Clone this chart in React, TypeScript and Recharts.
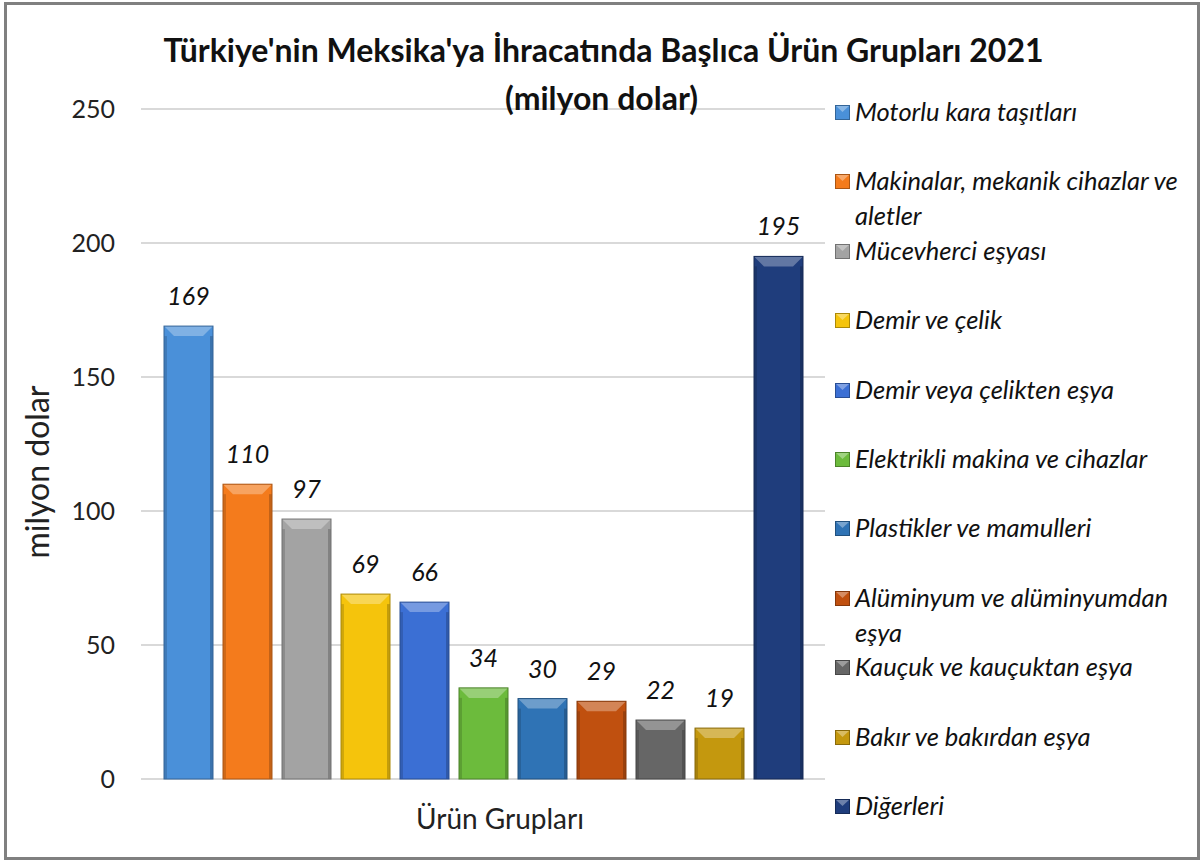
import React from 'react';
import {
  BarChart,
  Bar,
  XAxis,
  YAxis,
  CartesianGrid,
  Legend,
  LabelList
} from 'recharts';

const CATEGORY = 'Ürün Grupları';

const SERIES_NAMES = [
  'Motorlu kara taşıtları',
  'Makinalar, mekanik cihazlar ve aletler',
  'Mücevherci eşyası',
  'Demir ve çelik',
  'Demir veya çelikten eşya',
  'Elektrikli makina ve cihazlar',
  'Plastikler ve mamulleri',
  'Alüminyum ve alüminyumdan eşya',
  'Kauçuk ve kauçuktan eşya',
  'Bakır ve bakırdan eşya',
  'Diğerleri'
];

const SERIES_VALUES = [169, 110, 97, 69, 66, 34, 30, 29, 22, 19, 195];

const SERIES_COLORS = [
  '#4a90d9',
  '#f47b1c',
  '#a3a3a3',
  '#f5c40c',
  '#3b6fd4',
  '#6cbb3c',
  '#2f73b5',
  '#c0500f',
  '#666666',
  '#c4980e',
  '#1f3d7c'
];

const Y_TICKS = [0, 50, 100, 150, 200, 250];

const FONT = 'Lato, "Open Sans", sans-serif';

const row: Record<string, string | number> = { name: CATEGORY };
SERIES_NAMES.forEach((_, i) => {
  row[`s${i}`] = SERIES_VALUES[i];
});
const chartData = [row];

// mix a hex colour toward white (amt > 0) or black (amt < 0)
function shade(hex: string, amt: number) {
  const n = parseInt(hex.slice(1), 16);
  const ch = [(n >> 16) & 255, (n >> 8) & 255, n & 255].map(c =>
    Math.round(amt >= 0 ? c + (255 - c) * amt : c * (1 + amt))
  );
  return `rgb(${ch[0]},${ch[1]},${ch[2]})`;
}

// bevelled bar, like the old office chart style
function BevelBar(props: any) {
  const { x, y, width, height, fill } = props;
  if (!height || height <= 0) return null;
  const b = Math.min(10, height / 2);
  const e = 3;
  return (
    <g>
      <rect x={x} y={y} width={width} height={height} fill={fill} />
      <polygon
        points={`${x},${y} ${x + width},${y} ${x + width - b},${y + b} ${x + b},${y + b}`}
        fill={shade(fill, 0.3)}
      />
      <rect x={x} y={y + b} width={e} height={height - b} fill={shade(fill, -0.15)} />
      <rect x={x + width - e} y={y + b} width={e} height={height - b} fill={shade(fill, -0.2)} />
      <rect x={x} y={y} width={width} height={height} fill="none" stroke={shade(fill, -0.3)} strokeWidth={1} />
    </g>
  );
}

function LegendMarker({ color }: { color: string }) {
  return (
    <svg width={15} height={15} style={{ flex: 'none', marginTop: 11, marginRight: 5 }}>
      <rect x={0} y={0} width={15} height={15} fill={color} />
      <polygon points="0,0 15,0 7.5,7" fill={shade(color, 0.35)} />
      <rect x={0.5} y={0.5} width={14} height={14} fill="none" stroke={shade(color, -0.3)} />
    </svg>
  );
}

function renderLegend(props: any) {
  const items = [...(props.payload || [])].sort(
    (a: any, b: any) => SERIES_NAMES.indexOf(a.value) - SERIES_NAMES.indexOf(b.value)
  );
  return (
    <div style={{ paddingLeft: 10, fontFamily: FONT }}>
      {items.map((p: any) => {
        const i = SERIES_NAMES.indexOf(p.value);
        return (
          <div key={p.value} style={{ display: 'flex', alignItems: 'flex-start', height: 69.4 }}>
            <LegendMarker color={SERIES_COLORS[i]} />
            <span style={{ fontStyle: 'italic', fontSize: 25.5, lineHeight: '35px', color: '#111' }}>
              {p.value}
            </span>
          </div>
        );
      })}
    </div>
  );
}

function YLabel(props: any) {
  const { viewBox } = props;
  const cx = viewBox.x + 36;
  const cy = viewBox.y + viewBox.height / 2 + 28;
  return (
    <text
      x={cx}
      y={cy}
      transform={`rotate(-90, ${cx}, ${cy})`}
      textAnchor="middle"
      dominantBaseline="central"
      fontFamily={FONT}
      fontSize={32}
      fill="#222"
    >
      milyon dolar
    </text>
  );
}

export default function App() {
  return (
    <div style={{ position: 'absolute', left: 0, top: 0, width: 1203, height: 861, background: '#fff' }}>
      <div
        style={{
          position: 'absolute',
          left: 4,
          top: 2,
          width: 1196,
          height: 858,
          boxSizing: 'border-box',
          border: '3px solid #808080'
        }}
      />
      <BarChart
        width={1203}
        height={861}
        data={chartData}
        margin={{ top: 109, right: 8, left: 0, bottom: 0 }}
        barGap={10}
      >
        <CartesianGrid stroke="#d9d9d9" strokeWidth={2} vertical={false} />
        <XAxis
          dataKey="name"
          axisLine={false}
          tickLine={false}
          height={82}
          tickSize={0}
          tickMargin={30}
          tick={{ fontFamily: FONT, fontSize: 28, fill: '#222', dx: 17 }}
        />
        <YAxis
          width={141}
          domain={[0, 250]}
          ticks={Y_TICKS}
          axisLine={false}
          tickLine={false}
          tickSize={0}
          tickMargin={26}
          tick={{ fontFamily: FONT, fontSize: 25, fill: '#222' }}
          label={<YLabel />}
        />
        <Legend
          layout="vertical"
          align="right"
          verticalAlign="top"
          width={370}
          content={renderLegend}
          wrapperStyle={{ top: 94 }}
        />
        {SERIES_NAMES.map((name, i) => (
          <Bar
            key={name}
            dataKey={`s${i}`}
            name={name}
            fill={SERIES_COLORS[i]}
            barSize={49}
            shape={<BevelBar />}
            isAnimationActive={false}
          >
            <LabelList
              dataKey={`s${i}`}
              position="top"
              offset={21}
              style={{ fontFamily: FONT, fontSize: 25, fontStyle: 'italic', fill: '#111' }}
            />
          </Bar>
        ))}
      </BarChart>
      <div
        style={{
          position: 'absolute',
          left: 0,
          top: 26,
          width: 1203,
          textAlign: 'center',
          fontFamily: FONT,
          fontWeight: 700,
          fontSize: 32,
          lineHeight: '48px',
          color: '#111',
          pointerEvents: 'none'
        }}
      >
        <div style={{ paddingLeft: 4 }}>Türkiye'nin Meksika'ya İhracatında Başlıca Ürün Grupları 2021</div>
        <div>(milyon dolar)</div>
      </div>
    </div>
  );
}
